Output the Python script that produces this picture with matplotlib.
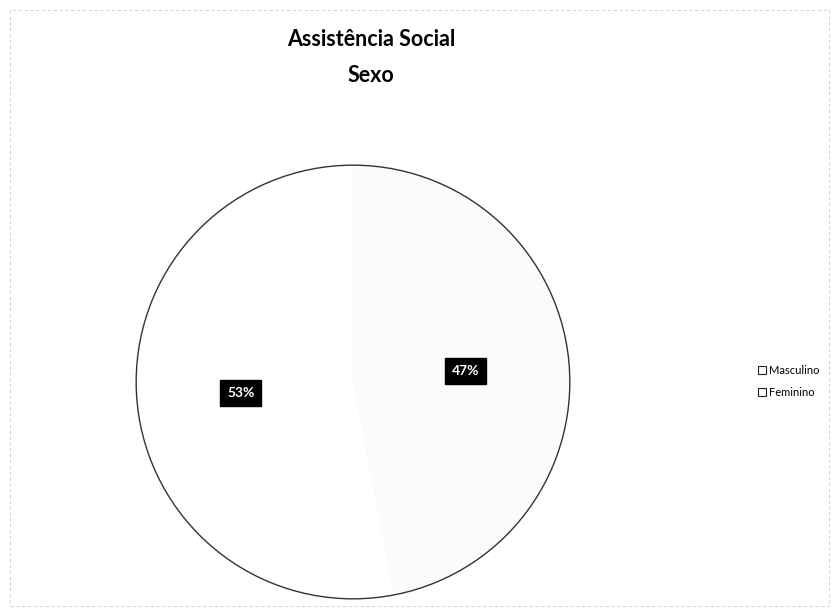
import matplotlib
matplotlib.use("Agg")
import matplotlib.pyplot as plt
from matplotlib.patches import Rectangle

categories = ["Masculino", "Feminino"]
values = [53, 47]
title_lines = ["Assistência Social", "Sexo"]

plt.rcParams['font.family'] = ['Lato', 'DejaVu Sans']

fig = plt.figure(figsize=(8.39, 6.08), dpi=100)
W, H = 839, 608

# pie axes: center (353, 382), radius 219 px
r = 219
cx, cy = 353, 382
ax = fig.add_axes([(cx - r) / W, (H - cy - r) / H, 2 * r / W, 2 * r / H])
wedges, texts, autotexts = ax.pie(
    values, colors=["white", "#fbfbfb"], startangle=90, counterclock=True,
    autopct=lambda p: f"{p:.0f}%", pctdistance=0.52,
    wedgeprops=dict(edgecolor="none", linewidth=0),
    textprops=dict(color="white", fontweight="bold", fontsize=10))
for t in autotexts:
    t.set_bbox(dict(boxstyle="square,pad=0.5", facecolor="black", edgecolor="black"))
circle = plt.Circle((0, 0), 1.0, fill=False, edgecolor="#333333", linewidth=1.0)
ax.add_patch(circle)
ax.set_xlim(-1.01, 1.01)
ax.set_ylim(-1.01, 1.01)
ax.set_aspect("equal")
ax.axis("off")

fig.text(371 / W, 1 - 39 / H, title_lines[0], ha="center", va="center",
         fontsize=15.5, fontweight="bold")
fig.text(371 / W, 1 - 76 / H, title_lines[1], ha="center", va="center",
         fontsize=15.5, fontweight="bold")

leg = fig.legend(wedges, categories, loc="upper left",
                 bbox_to_anchor=(748 / W, 1 - 355 / H), frameon=False,
                 fontsize=8, handlelength=0.7, handleheight=0.7,
                 handletextpad=0.3, labelspacing=1.0)
for h in leg.legend_handles:
    h.set_edgecolor("#222222")
    h.set_linewidth(0.8)

# faint chart border
fig.patches.append(Rectangle((10 / W, 2 / H), 1 - 20 / W, 1 - 12 / H,
                             transform=fig.transFigure, fill=False,
                             edgecolor="#cccccc", linewidth=0.6,
                             linestyle=(0, (4, 3))))

fig.savefig("out.png", dpi=100)
